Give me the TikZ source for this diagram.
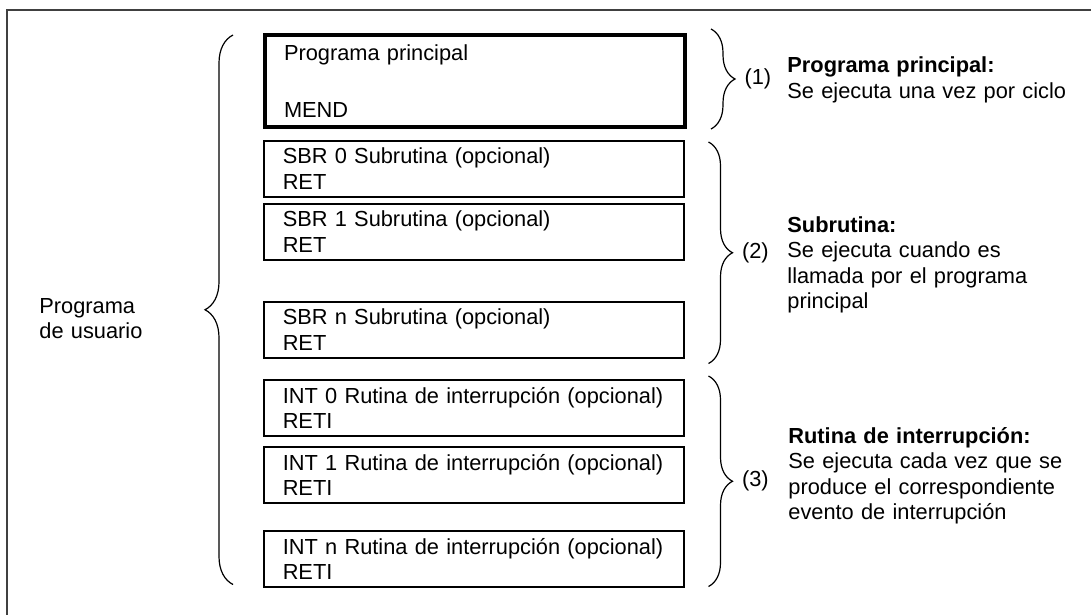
\documentclass[tikz,border=0pt]{standalone}
\usepackage{fontspec}
\setmainfont{Liberation Sans}
\usepackage{tikz}
\usetikzlibrary{positioning,decorations.pathreplacing}

\tikzset{
    blk/.style={draw, line width=0.75pt, anchor=north west, minimum height=28pt,
        text width=191pt, inner xsep=9.5pt, inner ysep=0pt, align=left},
    brc/.style={decorate, decoration={brace, amplitude=#1}, line width=0.6pt},
    desc/.style={anchor=base west, inner sep=0pt, text width=150pt, align=left},
}

\begin{document}
\begin{tikzpicture}[x=0.5pt, y=-0.5pt, font=\fontsize{10.9}{12.75}\selectfont]
        \useasboundingbox (0, 0) rectangle (1091, 615);
        \draw[line width=1pt, black!75] (7, 615) -- (7, 10) -- (1091, 10);

        % program blocks
        \node[blk, line width=2pt, minimum height=46pt] (main) at (263, 33) {Programa principal\\[16pt]MEND};
        \node[blk] (sbr0) at (263, 140) {SBR 0 Subrutina (opcional)\\RET};
        \node[blk] (sbr1) at (263, 203) {SBR 1 Subrutina (opcional)\\RET};
        \node[blk] (sbrn) at (263, 301) {SBR n Subrutina (opcional)\\RET};
        \node[blk] (int0) at (263, 379) {INT 0 Rutina de interrupción (opcional)\\RETI};
        \node[blk] (int1) at (263, 446) {INT 1 Rutina de interrupción (opcional)\\RETI};
        \node[blk] (intn) at (263, 530) {INT n Rutina de interrupción (opcional)\\RETI};

        % braces
        \draw[brc=14pt] ([xshift=-15pt,yshift=1.5pt]intn.south west) -- ([xshift=-15pt,yshift=-1pt]main.north west);
        \draw[brc=12pt] ([xshift=12pt,yshift=2pt]main.north east) -- node[right=16.5pt, inner sep=0pt] (n1) {(1)} ([xshift=12pt]main.south east);
        \draw[brc=12pt] ([xshift=12pt,yshift=-1pt]sbr0.north east) -- node[right=16.5pt, inner sep=0pt] (n2) {(2)} ([xshift=12pt,yshift=-2.5pt]sbrn.south east);
        \draw[brc=12pt] ([xshift=12pt,yshift=1.5pt]int0.north east) -- node[right=16.5pt, inner sep=0pt] (n3) {(3)} ([xshift=12pt,yshift=0.5pt]intn.south east);

        \node[desc, text width=60pt] (user) at (39, 313) {Programa\\de usuario};
        \node[desc] (desc1) at (787, 73) {\textbf{Programa principal:}\\Se ejecuta una vez por ciclo};
        \node[desc] (desc2) at (787, 232) {\textbf{Subrutina:}\\Se ejecuta cuando es\\llamada por el programa\\principal};
        \node[desc] (desc3) at (788, 443) {\textbf{Rutina de interrupción:}\\Se ejecuta cada vez que se\\produce el correspondiente\\evento de interrupción};
    \end{tikzpicture}
\end{document}
